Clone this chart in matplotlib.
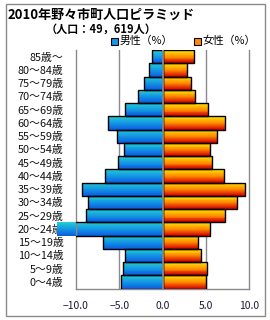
import matplotlib
matplotlib.use('Agg')
import matplotlib.pyplot as plt
from matplotlib.colors import LinearSegmentedColormap
from matplotlib.patches import Rectangle
import numpy as np

plt.rcParams['font.family'] = ['Noto Sans CJK JP', 'DejaVu Sans']

# age groups, bottom to top
ages = ['0〜4歳', '5〜9歳', '10〜14歳', '15〜19歳', '20〜24歳', '25〜29歳',
        '30〜34歳', '35〜39歳', '40〜44歳', '45〜49歳', '50〜54歳', '55〜59歳',
        '60〜64歳', '65〜69歳', '70〜74歳', '75〜79歳', '80〜84歳', '85歳〜']
male = [4.85, 4.6, 4.3, 6.9, 12.2, 8.9, 8.6, 9.35, 6.6, 5.2, 4.5, 5.3,
        6.3, 4.4, 2.9, 2.1, 1.55, 1.2]
female = [5.0, 5.15, 4.45, 4.1, 5.5, 7.2, 8.6, 9.5, 7.1, 5.7, 5.5, 6.3,
          7.2, 5.2, 3.75, 3.3, 2.85, 3.65]
xticks = [-10, -5, 0, 5, 10]
xlabels = ['−10.0', '−5.0', '0.0', '5.0', '10.0']

title = '2010年野々市町人口ピラミッド'
subtitle = '（人口：49，619人）'

W, H = 270, 320
fig = plt.figure(figsize=(W / 100, H / 100), dpi=100)
ax = fig.add_axes([76 / W, 1 - 288.5 / H, 173.3 / W, 238.5 / H])

# gradients: top colour -> bottom colour
cm_m = LinearSegmentedColormap.from_list('m', ['#22ccd4', '#1496e4', '#0a5ee0'])
cm_f = LinearSegmentedColormap.from_list('f', ['#ffe400', '#ff8c00', '#d40000'])

y = np.arange(len(ages))
neg_male = -np.array(male)
n = 14
for k in range(n):
    off = 0.5 - (k + 0.5) / n
    ax.barh(y + off, neg_male, height=1.0 / n, color=cm_m(k / (n - 1)),
            linewidth=0, clip_on=False, zorder=2)
    ax.barh(y + off, female, height=1.0 / n, color=cm_f(k / (n - 1)),
            linewidth=0, clip_on=False, zorder=2)

# outlines
ax.barh(y, neg_male, height=1.0, facecolor='none', edgecolor='black',
        linewidth=1.0, zorder=3)
ax.barh(y, female, height=1.0, facecolor='none', edgecolor='black',
        linewidth=1.0, zorder=3)
ax.axvline(0, color='#8a8a8a', linewidth=1.3, zorder=4)

ax.set_xlim(-10, 10)
ax.set_ylim(-0.5, len(ages) - 0.5)
for xv in [-5, 5]:
    ax.axvline(xv, color='#8a8a8a', linewidth=1.0, zorder=1)

ax.set_yticks(y)
ax.set_yticklabels(ages, fontsize=7.8, color='#111111')
ax.set_xticks(xticks)
ax.set_xticklabels(xlabels, fontsize=7.5, color='#1a1a3a')
ax.tick_params(length=0)
ax.tick_params(axis='y', pad=9)
ax.tick_params(axis='x', pad=9)

for s in ['left', 'right', 'bottom']:
    ax.spines[s].set_color('#8a8a8a')
    ax.spines[s].set_linewidth(1.0)
ax.spines['top'].set_visible(False)

# title block
fig.text(8 / W, 1 - 15 / H, title, fontsize=9.4, fontweight='bold',
         ha='left', va='center')
fig.text(101 / W, 1 - 29 / H, subtitle, fontsize=8, fontweight='bold',
         ha='center', va='center')

# legend
for x0, name, cm in [(111, '男性（%）', cm_m), (194, '女性（%）', cm_f)]:
    fig.add_artist(Rectangle((x0 / W, 1 - 44.5 / H), 6.5 / W, 6.5 / H,
                             transform=fig.transFigure,
                             facecolor=cm(0.5), edgecolor='black', linewidth=0.8))
    fig.text((x0 + 8.5) / W, 1 - 41 / H, name, fontsize=7.8,
             ha='left', va='center')

# outer frame
fig.add_artist(Rectangle((6 / W, 1 - 316 / H), 259 / W, 312 / H,
                         transform=fig.transFigure, facecolor='none',
                         edgecolor='#8a8a8a', linewidth=1.0))

fig.savefig('out.png', dpi=100)
